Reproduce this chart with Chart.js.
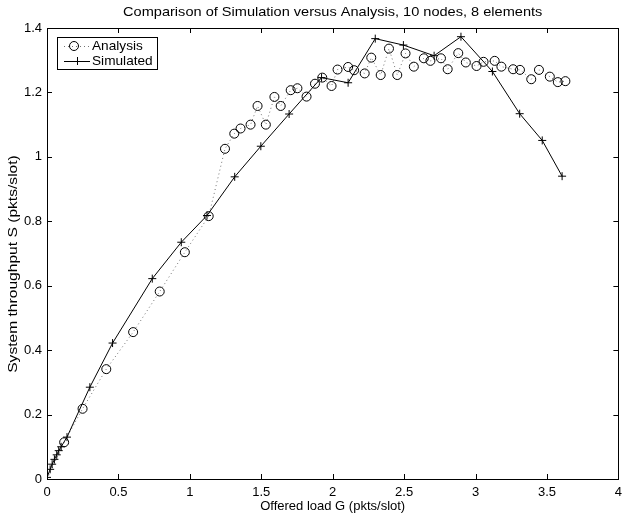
<!DOCTYPE html>
<html>
<head>
<meta charset="utf-8">
<script src="https://cdn.jsdelivr.net/npm/chart.js@4"></script>
<style>
  html, body { margin: 0; padding: 0; background: #fff; }
  #wrap { width: 628px; height: 514px; }
</style>
</head>
<body>
<div id="wrap"><canvas id="throughput"></canvas></div>
<script>
// Offered load G vs. throughput S, analytical model
const analysisG = [0, 0.12, 0.249, 0.415, 0.603, 0.789, 0.965, 1.132, 1.246, 1.311, 1.355, 1.425, 1.474, 1.532,
    1.592, 1.636, 1.706, 1.753, 1.817, 1.876, 1.927, 1.992, 2.034, 2.108, 2.15, 2.224, 2.27, 2.336, 2.394,
    2.452, 2.51, 2.568, 2.638, 2.684, 2.758, 2.805, 2.879, 2.932, 3.007, 3.056, 3.134, 3.181, 3.263, 3.311,
    3.39, 3.444, 3.52, 3.576, 3.629];
const analysisS = [0, 0.114, 0.218, 0.341, 0.456, 0.582, 0.704, 0.816, 1.025, 1.072, 1.088, 1.10, 1.158, 1.10,
    1.186, 1.158, 1.207, 1.213, 1.187, 1.227, 1.246, 1.220, 1.271, 1.279, 1.269, 1.259, 1.308, 1.254, 1.336,
    1.254, 1.321, 1.28, 1.306, 1.298, 1.306, 1.272, 1.322, 1.293, 1.282, 1.295, 1.298, 1.28, 1.272, 1.27,
    1.241, 1.27, 1.249, 1.232, 1.235];

// Same quantities from the simulator
const simulatedG = [0, 0.022, 0.036, 0.052, 0.068, 0.082, 0.099, 0.14, 0.30, 0.459, 0.737, 0.94, 1.12, 1.314,
    1.497, 1.695, 1.922, 2.108, 2.298, 2.495, 2.71, 2.898, 3.118, 3.309, 3.467, 3.606];
const simulatedS = [0.005, 0.03, 0.046, 0.061, 0.075, 0.088, 0.10, 0.13, 0.285, 0.422, 0.622, 0.735, 0.818,
    0.938, 1.033, 1.133, 1.246, 1.23, 1.367, 1.347, 1.314, 1.373, 1.265, 1.134, 1.051, 0.94];

const xTickValues = [0, 0.5, 1, 1.5, 2, 2.5, 3, 3.5, 4];
const xTickLabels = ['0', '0.5', '1', '1.5', '2', '2.5', '3', '3.5', '4'];
const yTickValues = [0, 0.2, 0.4, 0.6, 0.8, 1, 1.2, 1.4];
const yTickLabels = ['0', '0.2', '0.4', '0.6', '0.8', '1', '1.2', '1.4'];

const FONT = 'Liberation Sans, Arial, Helvetica, sans-serif';

const toPoints = (xs, ys) => xs.map((x, i) => ({ x: x, y: ys[i] }));

// text slightly stretched along its baseline
function wideText(ctx, text, x, y, angle, stretch) {
    ctx.save();
    ctx.translate(x, y);
    ctx.rotate(angle);
    ctx.scale(stretch, 1);
    ctx.fillText(text, 0, 0);
    ctx.restore();
}

// box, inward ticks on all four sides, titles and the legend
const matlabFrame = {
    id: 'matlabFrame',
    afterDraw(chart) {
        const ctx = chart.ctx;
        const a = chart.chartArea;
        const xs = chart.scales.x, ys = chart.scales.y;
        const tick = 5;
        ctx.save();
        ctx.strokeStyle = '#000';
        ctx.lineWidth = 1;
        ctx.beginPath();
        xTickValues.forEach(v => {
            const px = Math.round(xs.getPixelForValue(v)) + 0.5;
            ctx.moveTo(px, a.bottom); ctx.lineTo(px, a.bottom - tick);
            ctx.moveTo(px, a.top); ctx.lineTo(px, a.top + tick);
        });
        yTickValues.forEach(v => {
            const py = Math.round(ys.getPixelForValue(v)) + 0.5;
            ctx.moveTo(a.left, py); ctx.lineTo(a.left + tick, py);
            ctx.moveTo(a.right, py); ctx.lineTo(a.right - tick, py);
        });
        ctx.stroke();
        ctx.strokeRect(Math.round(a.left) + 0.5, Math.round(a.top) + 0.5,
            Math.round(a.right - a.left), Math.round(a.bottom - a.top));

        // titles
        ctx.fillStyle = '#000';
        ctx.textAlign = 'center';
        ctx.textBaseline = 'middle';
        const cx = (a.left + a.right) / 2;
        ctx.font = '13px ' + FONT;
        wideText(ctx, 'Comparison of Simulation versus Analysis, 10 nodes, 8 elements', cx, 12, 0, 1.12);
        wideText(ctx, 'Offered load G (pkts/slot)', cx, 506, 0, 1.0);
        wideText(ctx, 'System throughput S (pkts/slot)', 13, 264, -Math.PI / 2, 1.2);

        // legend
        const lx = 57, ly = 37, lw = 100, lh = 32;
        ctx.fillStyle = '#fff';
        ctx.fillRect(lx, ly, lw, lh);
        ctx.strokeRect(lx + 0.5, ly + 0.5, lw, lh);
        const rows = [
            { label: 'Analysis', y: 46, dash: [1, 3], color: 'rgba(0,0,0,0.55)', marker: 'circle' },
            { label: 'Simulated', y: 61, dash: [], color: '#000', marker: 'cross' }
        ];
        rows.forEach(r => {
            ctx.save();
            ctx.setLineDash(r.dash);
            ctx.strokeStyle = r.color;
            ctx.beginPath();
            ctx.moveTo(64, r.y + 0.5); ctx.lineTo(90, r.y + 0.5);
            ctx.stroke();
            ctx.restore();
            ctx.strokeStyle = '#000';
            ctx.beginPath();
            if (r.marker === 'circle') {
                ctx.arc(74, r.y, 4.5, 0, Math.PI * 2);
            } else {
                ctx.moveTo(77 - 4, r.y + 0.5); ctx.lineTo(77 + 4, r.y + 0.5);
                ctx.moveTo(77.5, r.y - 4); ctx.lineTo(77.5, r.y + 4);
            }
            ctx.stroke();
            ctx.fillStyle = '#000';
            ctx.textAlign = 'left';
            ctx.font = '13px ' + FONT;
            wideText(ctx, r.label, 92, r.y, 0, 1.05);
        });
        ctx.restore();
    }
};

new Chart(document.getElementById('throughput'), {
    type: 'scatter',
    data: {
        datasets: [{
            label: 'Analysis',
            data: toPoints(analysisG, analysisS),
            showLine: true,
            borderColor: 'rgba(0,0,0,0.55)',
            borderWidth: 1,
            borderDash: [1, 3],
            pointStyle: 'circle',
            pointRadius: ctx => ctx.dataIndex === 0 ? 0 : 4.5,
            pointBorderColor: '#000',
            pointBackgroundColor: 'rgba(0,0,0,0)',
            pointBorderWidth: 1,
            tension: 0
        }, {
            label: 'Simulated',
            data: toPoints(simulatedG, simulatedS),
            showLine: true,
            borderColor: '#000',
            borderWidth: 1,
            pointStyle: 'cross',
            pointRadius: 4,
            pointBorderColor: '#000',
            pointBorderWidth: 1,
            tension: 0
        }]
    },
    options: {
        responsive: true,
        maintainAspectRatio: false,
        animation: false,
        layout: { padding: { top: 28, right: 6, left: 0, bottom: 0 } },
        plugins: {
            legend: { display: false },
            title: { display: false },
            tooltip: { enabled: false }
        },
        scales: {
            x: {
                type: 'linear',
                min: 0,
                max: 4,
                afterBuildTicks: s => { s.ticks = xTickValues.map(v => ({ value: v })); },
                afterFit: s => { s.height = 35; },
                grid: { display: false, drawTicks: false },
                border: { display: false },
                ticks: {
                    color: '#000',
                    padding: 6,
                    font: { family: FONT, size: 13 },
                    maxRotation: 0,
                    autoSkip: false,
                    callback: (v, i) => xTickLabels[i]
                }
            },
            y: {
                type: 'linear',
                min: 0,
                max: 1.4,
                afterBuildTicks: s => { s.ticks = yTickValues.map(v => ({ value: v })); },
                afterFit: s => { s.width = 47; },
                grid: { display: false, drawTicks: false },
                border: { display: false },
                ticks: {
                    color: '#000',
                    padding: 5,
                    font: { family: FONT, size: 13 },
                    autoSkip: false,
                    callback: (v, i) => yTickLabels[i]
                }
            }
        }
    },
    plugins: [matlabFrame]
});
</script>
</body>
</html>
